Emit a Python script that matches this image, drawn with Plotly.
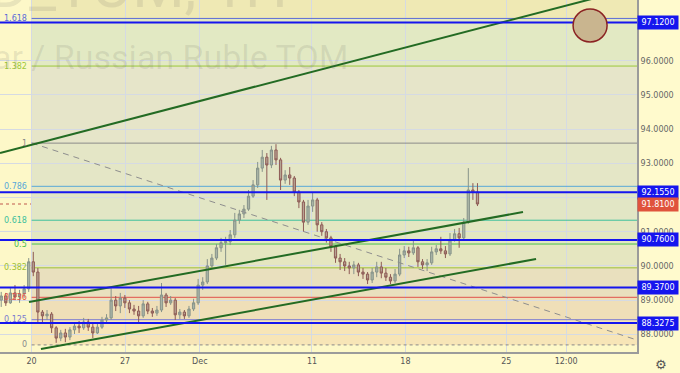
import plotly.graph_objects as go

# ---------------- data ----------------
# hourly-ish bars, time in trading days since Mon 20 Nov (weekends removed)
bar_start = -1.625
bar_step = 0.245

opens = [89.00, 89.12, 88.92, 89.21, 89.09, 89.18, 89.33, 90.12, 89.82, 88.65,
         88.54, 88.59, 88.19, 87.89, 88.04, 87.92, 88.13, 88.24, 88.19, 88.36,
         88.21, 88.04, 88.21, 88.42, 88.48, 89.00, 88.83, 89.06, 88.92, 88.74,
         88.68, 88.54, 88.89, 88.68, 88.62, 88.71, 89.15, 88.92, 89.00, 88.57,
         88.65, 88.54, 88.74, 88.92, 89.44, 89.53, 90.00, 90.23, 90.53, 90.68,
         90.71, 90.91, 91.34, 91.52, 91.66, 92.04, 92.37, 92.86, 93.18, 92.95,
         93.39, 93.10, 92.51, 92.66, 92.57, 92.16, 91.87, 91.28, 91.75, 91.93,
         91.20, 91.00, 90.82, 90.56, 90.23, 90.12, 90.00, 89.94, 90.03, 89.82,
         89.76, 89.59, 89.82, 89.97, 89.79, 89.67, 89.56, 89.76, 90.32, 90.44,
         90.38, 90.53, 90.12, 90.03, 90.09, 90.41, 90.50, 90.44, 90.35, 90.76,
         90.94, 90.82, 91.28, 92.22, 92.16]
highs = [89.24, 89.21, 89.35, 89.44, 89.30, 89.44, 90.23, 90.41, 89.94, 88.71,
         88.71, 88.65, 88.24, 88.13, 88.16, 88.21, 88.36, 88.39, 88.48, 88.45,
         88.30, 88.33, 88.51, 88.59, 89.35, 89.12, 89.21, 89.15, 89.00, 88.86,
         88.83, 89.00, 88.95, 88.77, 88.83, 89.50, 89.21, 89.12, 89.06, 88.74,
         88.71, 88.83, 89.04, 89.62, 89.67, 90.20, 90.35, 90.64, 90.82, 90.85,
         91.05, 91.55, 91.64, 91.78, 92.22, 92.51, 93.04, 93.39, 93.30, 93.51,
         93.56, 93.16, 92.80, 92.89, 92.63, 92.22, 91.93, 91.93, 92.16, 91.99,
         91.28, 91.08, 90.88, 90.61, 90.35, 90.23, 90.12, 90.14, 90.09, 89.94,
         89.82, 89.94, 90.12, 90.12, 89.94, 89.76, 89.91, 90.50, 90.58, 90.56,
         90.76, 90.58, 90.20, 90.20, 90.56, 90.61, 90.85, 90.58, 90.96, 91.08,
         91.11, 91.40, 92.86, 92.42, 92.42]
lows = [88.80, 88.83, 88.89, 89.00, 88.92, 89.06, 89.24, 89.70, 88.33, 88.36,
        88.42, 88.04, 87.75, 87.80, 87.77, 87.83, 88.01, 88.04, 88.13, 88.10,
        87.89, 88.01, 88.16, 88.33, 88.42, 88.68, 88.62, 88.77, 88.62, 88.57,
        88.36, 88.48, 88.59, 88.51, 88.54, 88.65, 88.80, 88.86, 88.42, 88.45,
        88.45, 88.48, 88.68, 88.86, 89.30, 89.47, 89.94, 90.17, 90.41, 90.03,
        90.61, 90.82, 91.23, 91.40, 91.61, 91.99, 92.28, 92.75, 91.93, 92.86,
        92.95, 92.22, 92.40, 92.37, 92.04, 91.69, 91.00, 91.20, 91.58, 91.00,
        90.88, 90.68, 90.41, 90.09, 89.88, 89.85, 89.76, 89.76, 89.70, 89.62,
        89.47, 89.50, 89.67, 89.64, 89.56, 89.47, 89.50, 89.70, 90.23, 90.26,
        90.32, 89.97, 89.91, 89.85, 90.03, 90.32, 90.35, 90.23, 90.29, 90.71,
        90.53, 90.76, 91.23, 91.93, 91.75]
closes = [89.12, 88.92, 89.21, 89.09, 89.18, 89.33, 90.12, 89.82, 88.65, 88.54,
          88.59, 88.19, 87.89, 88.04, 87.92, 88.13, 88.24, 88.19, 88.36, 88.21,
          88.04, 88.21, 88.42, 88.48, 89.00, 88.83, 89.06, 88.92, 88.74, 88.68,
          88.54, 88.89, 88.68, 88.62, 88.71, 89.15, 88.92, 89.00, 88.57, 88.65,
          88.54, 88.74, 88.92, 89.44, 89.53, 90.00, 90.23, 90.53, 90.68, 90.71,
          90.91, 91.34, 91.52, 91.66, 92.04, 92.37, 92.86, 93.18, 92.95, 93.39,
          93.10, 92.51, 92.66, 92.57, 92.16, 91.87, 91.28, 91.75, 91.93, 91.20,
          91.00, 90.82, 90.56, 90.23, 90.12, 90.00, 89.94, 90.03, 89.82, 89.76,
          89.59, 89.82, 89.97, 89.79, 89.67, 89.56, 89.76, 90.32, 90.44, 90.38,
          90.53, 90.12, 90.03, 90.09, 90.41, 90.50, 90.44, 90.35, 90.76, 90.94,
          90.82, 91.28, 92.22, 92.16, 91.81]

date_tick_vals = [0, 5, 9, 15, 20, 25.4, 28.6]
date_tick_text = ["20", "27", "Dec", "11", "18", "25", "12:00"]
price_ticks = [88, 89, 90, 91, 92, 93, 94, 95, 96]

# Fibonacci retracement drawn on the chart
fib_start_t = 0.0
fib_low = 87.69
fib_high = 93.59
fib_ratios = [0, 0.125, 0.236, 0.382, 0.5, 0.618, 0.786, 1, 1.382, 1.618]
fib_labels = ["0", "0.125", "0.236", "0.382", "0.5", "0.618", "0.786", "1", "1.382", "1.618"]
fib_colors = ["#8a8a8a", "#7b7bd0", "#e0504a", "#9cbf35", "#4cbf4c", "#3cbf9c",
              "#58a8d8", "#8a8a8a", "#9cc83a", "#5b6bd8"]
fib_fills = ["#f7e5b7", "#efdfb8", "#e9e0be", "#e5e6c0", "#e3e7c2", "#e2e6c5",
             "#e4e6c6", "#e6e5c9", "#e2e9c3"]

# key horizontal levels (blue) and last price
key_levels = [97.12, 92.155, 90.76, 89.37, 88.3275]
last_price = 91.81

# trend lines: [(t1, p1), (t2, p2)]
trend_top = [(-1.69, 93.30), (32.39, 98.15)]
channel_upper = [(-0.14, 88.945), (26.29, 91.576)]
channel_lower = [(0.50, 87.570), (26.99, 90.202)]
dashed_line = [(0.0, 93.594), (32.39, 87.833)]
circle_box = [(28.97, 96.55), (30.79, 97.51)]

# ---------------- figure ----------------
t = [bar_start + bar_step * i for i in range(len(closes))]
x_range = [-1.691, 32.39]
y_range = [87.483, 97.775]

fig = go.Figure()

shapes = []
levels = [fib_low + r * (fib_high - fib_low) for r in fib_ratios]
# background bands
for i in range(len(levels) - 1):
    shapes.append(dict(type="rect", xref="x", yref="y", x0=fib_start_t, x1=40,
                       y0=levels[i], y1=levels[i + 1], fillcolor=fib_fills[i],
                       line=dict(width=0), layer="below"))
shapes.append(dict(type="rect", xref="x", yref="y", x0=fib_start_t, x1=40,
                   y0=levels[-1], y1=100, fillcolor="#efe9b4",
                   line=dict(width=0), layer="below"))
# fib lines
for lv, col, lab in zip(levels, fib_colors, fib_labels):
    shapes.append(dict(type="line", xref="x", yref="y", x0=fib_start_t, x1=40,
                       y0=lv, y1=lv, line=dict(color=col, width=1,
                       dash="dot" if lab == "0" else "solid"), layer="between"))
# last price dotted line
shapes.append(dict(type="line", xref="paper", yref="y", x0=0, x1=1,
                   y0=last_price, y1=last_price,
                   line=dict(color="#c0584d", width=1, dash="dot"), layer="between"))

# dashed diagonal
fig.add_trace(go.Scatter(x=[p[0] for p in dashed_line], y=[p[1] for p in dashed_line],
                         mode="lines", line=dict(color="#8e8e8e", width=1, dash="6px,5px"),
                         hoverinfo="skip"))

fig.add_trace(go.Candlestick(
    x=t, open=opens, high=highs, low=lows, close=closes,
    increasing=dict(line=dict(color="#87938a", width=1), fillcolor="#aab5a6"),
    decreasing=dict(line=dict(color="#8e5a55", width=1), fillcolor="#b5a493"),
    whiskerwidth=0))

for ln in (trend_top, channel_upper, channel_lower):
    fig.add_trace(go.Scatter(x=[p[0] for p in ln], y=[p[1] for p in ln], mode="lines",
                             line=dict(color="#236b23", width=2), hoverinfo="skip"))

# blue key levels
for lv in key_levels:
    shapes.append(dict(type="line", xref="paper", yref="y", x0=0, x1=1, y0=lv, y1=lv,
                       line=dict(color="#1515ee", width=2), layer="above"))

# circle marker
shapes.append(dict(type="circle", xref="x", yref="y",
                   x0=circle_box[0][0], x1=circle_box[1][0],
                   y0=circle_box[0][1], y1=circle_box[1][1],
                   fillcolor="#c9b58f", line=dict(color="#8b2323", width=1.5),
                   layer="above"))

annotations = []
for lv, col, lab in zip(levels, fib_colors, fib_labels):
    annotations.append(dict(xref="x", yref="y", x=fib_start_t, y=lv, xanchor="right",
                            xshift=-3, text=lab, showarrow=False,
                            font=dict(family="DejaVu Sans", size=8, color=col)))
for lv in key_levels:
    annotations.append(dict(xref="paper", yref="y", x=1, y=lv, xanchor="left",
                            text=f"{lv:.4f}", showarrow=False, bgcolor="#1515ee",
                            width=38, height=11, borderpad=1, align="center",
                            font=dict(family="DejaVu Sans", size=8, color="white")))
annotations.append(dict(xref="paper", yref="y", x=1, y=last_price, xanchor="left",
                        text=f"{last_price:.4f}", showarrow=False, bgcolor="#e0533c",
                        width=38, height=11, borderpad=1, align="center",
                        font=dict(family="DejaVu Sans", size=8, color="white")))
# watermark
annotations.append(dict(xref="paper", yref="paper", x=290 / 637, y=1.0, xanchor="right",
                        yanchor="middle", yshift=14, text="USD_TOM, 1H", showarrow=False,
                        font=dict(family="Roboto", size=60, color="rgba(90,90,90,0.13)")))
annotations.append(dict(xref="paper", yref="paper", x=350 / 637, y=1 - 57 / 352,
                        xanchor="right", yanchor="middle",
                        text="US Dollar / Russian Ruble TOM", showarrow=False,
                        font=dict(family="Roboto", size=34, color="rgba(90,90,90,0.13)")))
# settings icon
annotations.append(dict(xref="paper", yref="paper", x=1, y=0, xanchor="center",
                        yanchor="top", xshift=24, yshift=-3, text="⚙", showarrow=False,
                        font=dict(family="DejaVu Sans", size=13, color="#555")))

fig.update_layout(
    width=680, height=373,
    margin=dict(l=0, r=43, t=0, b=21),
    paper_bgcolor="#fffacd", plot_bgcolor="#fdf8c8",
    showlegend=False,
    shapes=shapes, annotations=annotations,
    xaxis=dict(range=x_range, tickvals=date_tick_vals, ticktext=date_tick_text,
               showgrid=True, gridcolor="#d5dae3", gridwidth=1, zeroline=False,
               showline=True, linecolor="#9b9b9b", linewidth=2, ticks="",
               tickfont=dict(family="DejaVu Sans", size=8, color="#555"),
               rangeslider=dict(visible=False)),
    yaxis=dict(range=y_range, side="right", tickvals=price_ticks,
               ticktext=[f"{v:.4f}" for v in price_ticks],
               showgrid=True, gridcolor="#d5dae3", gridwidth=1, zeroline=False,
               showline=True, linecolor="#9b9b9b", linewidth=2, ticks="",
               tickfont=dict(family="DejaVu Sans", size=8, color="#666")),
)

fig.write_html("out.html")
